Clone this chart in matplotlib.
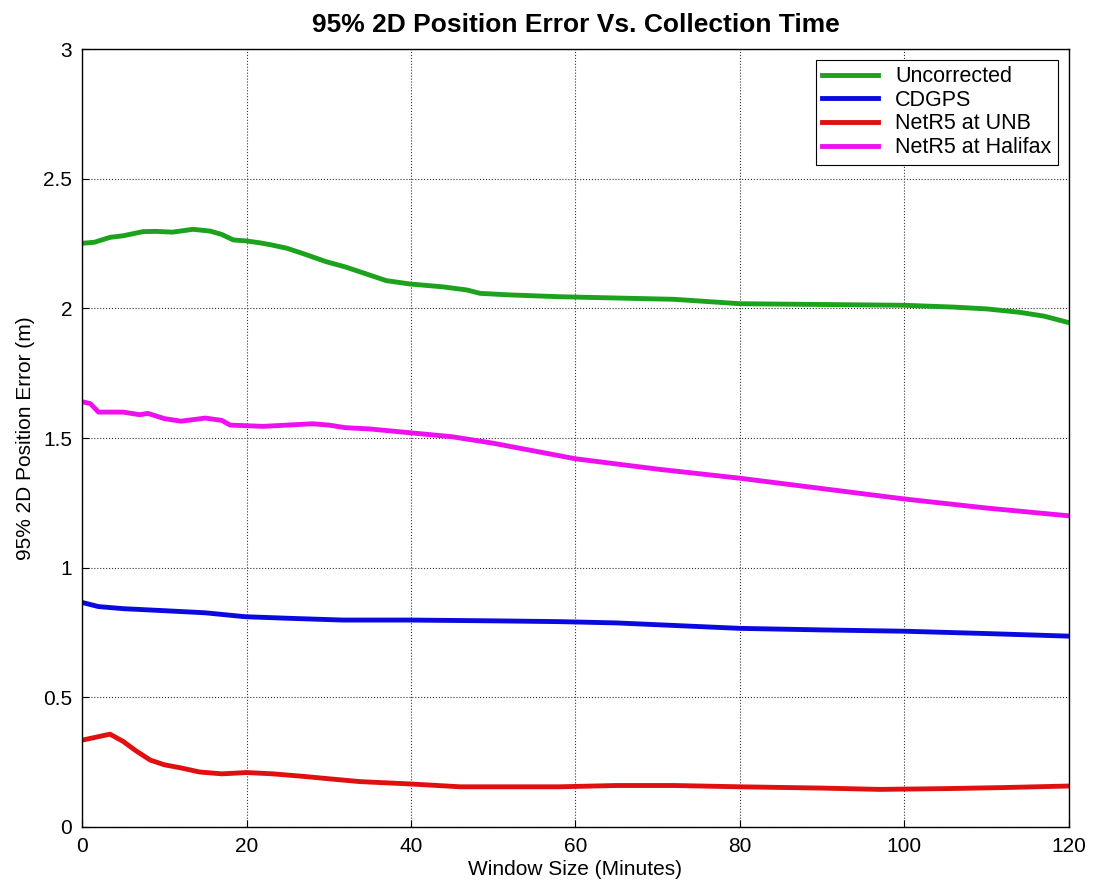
import numpy as np
import matplotlib
matplotlib.use('Agg')
import matplotlib.pyplot as plt

plt.rcParams['font.family'] = ['Liberation Sans', 'DejaVu Sans']

# window size (minutes) and 95% 2D error (m)
x_unc = [0, 1.5, 3.4, 5, 7.4, 9, 11, 13.5, 15.6, 17, 18.4, 20, 21.6, 23, 24.9, 27, 29.7, 32, 33.8, 37, 39.9, 43.9, 46.8, 48.4, 52, 58, 65, 72, 80, 90, 100, 106, 110, 114, 117, 120]
y_unc = [2.251, 2.255, 2.274, 2.28, 2.296, 2.297, 2.294, 2.305, 2.298, 2.285, 2.264, 2.26, 2.253, 2.245, 2.232, 2.21, 2.18, 2.16, 2.141, 2.107, 2.094, 2.083, 2.071, 2.058, 2.052, 2.045, 2.04, 2.035, 2.018, 2.015, 2.012, 2.005, 1.998, 1.985, 1.97, 1.945]

x_cdgps = [0, 2, 5, 9.5, 15, 19.8, 25, 31.7, 40, 50, 58, 65, 70, 80, 90, 100, 110, 120]
y_cdgps = [0.866, 0.85, 0.842, 0.835, 0.826, 0.811, 0.805, 0.798, 0.798, 0.795, 0.792, 0.787, 0.78, 0.766, 0.76, 0.755, 0.746, 0.736]

x_unb = [0, 1.5, 3.4, 5, 6.5, 8.3, 10, 12, 14.3, 17, 20, 23.2, 27, 30, 33.8, 39.9, 46, 50, 58, 65, 72, 80, 90, 97, 105, 112, 120]
y_unb = [0.335, 0.345, 0.358, 0.33, 0.295, 0.258, 0.24, 0.228, 0.212, 0.205, 0.21, 0.205, 0.195, 0.186, 0.175, 0.166, 0.155, 0.155, 0.155, 0.16, 0.16, 0.155, 0.15, 0.145, 0.148, 0.152, 0.158]

x_hfx = [0, 1, 2, 5, 7, 8, 10, 12, 15, 17, 18, 22, 25, 28, 30, 32, 35, 40, 45, 50, 55, 60, 65, 70, 80, 90, 100, 110, 120]
y_hfx = [1.64, 1.633, 1.60, 1.60, 1.59, 1.595, 1.575, 1.565, 1.577, 1.568, 1.55, 1.545, 1.55, 1.555, 1.55, 1.54, 1.535, 1.52, 1.505, 1.48, 1.45, 1.42, 1.40, 1.38, 1.345, 1.305, 1.265, 1.23, 1.20]

names = ['Uncorrected', 'CDGPS', 'NetR5 at UNB', 'NetR5 at Halifax']
colors = ['#1ca21c', '#0a0ae0', '#e01010', '#ee10ee']

fig = plt.figure(figsize=(10.94, 8.86), dpi=100)
ax = fig.add_axes([0.075, 0.0666, 0.902, 0.878])

series = [(x_unc, y_unc), (x_cdgps, y_cdgps), (x_unb, y_unb), (x_hfx, y_hfx)]
for (xs, ys), nm, c in zip(series, names, colors):
    ax.plot(xs, ys, color=c, lw=3.5, label=nm)

ax.set_xlim(0, 120)
ax.set_ylim(0, 3)
ax.set_xticks(np.arange(0, 121, 20))
ax.set_yticks(np.arange(0, 3.01, 0.5))
ax.set_yticklabels(['0', '0.5', '1', '1.5', '2', '2.5', '3'])
ax.tick_params(direction='in', labelsize=15, length=5, pad=7)
ax.grid(True, color='#333333', linestyle=':', linewidth=0.8)
for s in ax.spines.values():
    s.set_linewidth(1.0)

ax.set_title('95% 2D Position Error Vs. Collection Time', fontsize=19, fontweight='bold', pad=12)
ax.set_xlabel('Window Size (Minutes)', fontsize=15, labelpad=3)
ax.set_ylabel('95% 2D Position Error (m)', fontsize=15, labelpad=6)

leg = ax.legend(loc='upper right', fontsize=15.5, fancybox=False, edgecolor='black',
                framealpha=1, borderaxespad=0.5, handlelength=2.6, labelspacing=0.12,
                borderpad=0.3, handletextpad=0.8)
leg.get_frame().set_linewidth(0.8)

fig.savefig('out.png', dpi=100)
